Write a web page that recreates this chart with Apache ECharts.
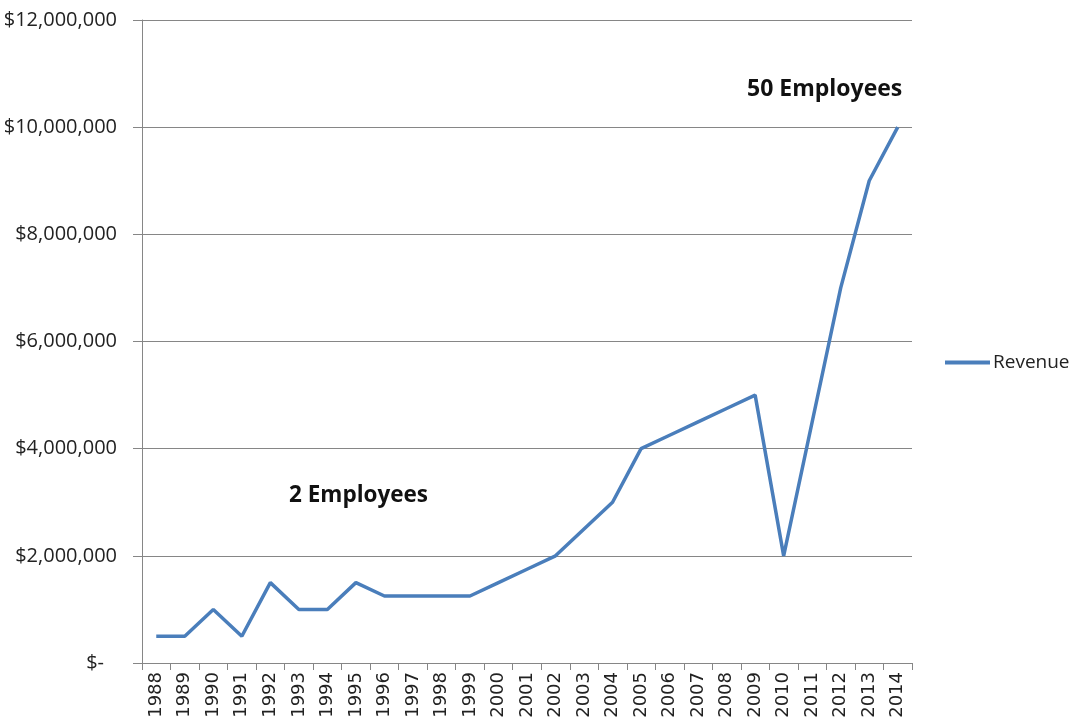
<!DOCTYPE html>
<html>
<head>
<meta charset="utf-8">
<script src="https://cdn.jsdelivr.net/npm/echarts@6/dist/echarts.min.js"></script>
<style>
html,body{margin:0;padding:0;background:#fff;}
#chart{width:1079px;height:725px;}
</style>
</head>
<body>
<div id="chart"></div>
<script>
// Yearly revenue, in dollars
const years = ['1988','1989','1990','1991','1992','1993','1994','1995','1996','1997','1998','1999','2000','2001','2002','2003','2004','2005','2006','2007','2008','2009','2010','2011','2012','2013','2014'];
const revenue = [500000,500000,1000000,500000,1500000,1000000,1000000,1500000,1250000,1250000,1250000,1250000,1500000,1750000,2000000,2500000,3000000,4000000,4250000,4500000,4750000,5000000,2000000,4500000,7000000,9000000,10000000];
const yTicks = [0,2000000,4000000,6000000,8000000,10000000,12000000];
const notes = ['2 Employees','50 Employees'];

// Accounting-style dollar labels; zero shows as "$-"
function money(v){
  if(v===0) return '{z|$-}';
  return '$' + v.toLocaleString('en-US');
}

const chart = echarts.init(document.getElementById('chart'));
const axisGrey = '#868686';
const labelFont = {fontFamily:'Open Sans',fontSize:20,color:'#222'};
chart.setOption({
  backgroundColor:'#ffffff',
  animation:false,
  grid:{left:142,right:167,top:20,bottom:62},
  legend:{
    data:['Revenue'],
    left:945, top:353, padding:0,
    icon:'rect', itemWidth:45, itemHeight:4, itemGap:0,
    textStyle:{fontFamily:'Open Sans',fontSize:19,color:'#222',padding:[0,0,0,-2]}
  },
  xAxis:{
    type:'category',
    data:years,
    boundaryGap:true,
    axisLine:{lineStyle:{color:axisGrey,width:1}},
    axisTick:{show:true,alignWithLabel:false,length:7,lineStyle:{color:axisGrey}},
    axisLabel:{rotate:90,interval:0,margin:9,fontFamily:'DejaVu Sans',fontSize:18,color:'#222'}
  },
  yAxis:{
    type:'value',
    min:yTicks[0], max:yTicks[yTicks.length-1], interval:2000000,
    axisLine:{show:true,lineStyle:{color:axisGrey,width:1}},
    axisTick:{show:true,length:9,lineStyle:{color:axisGrey}},
    splitLine:{lineStyle:{color:axisGrey,width:1}},
    axisLabel:Object.assign({formatter:money,margin:25,
      rich:{z:Object.assign({padding:[0,13,0,0]},labelFont)}},labelFont)
  },
  series:[{
    name:'Revenue',
    type:'line',
    data:revenue,
    symbol:'none',
    lineStyle:{color:'#4a7ebb',width:3.5},
    itemStyle:{color:'#4a7ebb'}
  }],
  graphic:[
    {type:'text',left:289,top:484,style:{text:notes[0],fontFamily:'Open Sans',fontWeight:'bold',fontSize:22.5,fill:'#111'}},
    {type:'text',left:747,top:78,style:{text:notes[1],fontFamily:'Open Sans',fontWeight:'bold',fontSize:23,fill:'#111'}}
  ]
});
</script>
</body>
</html>
